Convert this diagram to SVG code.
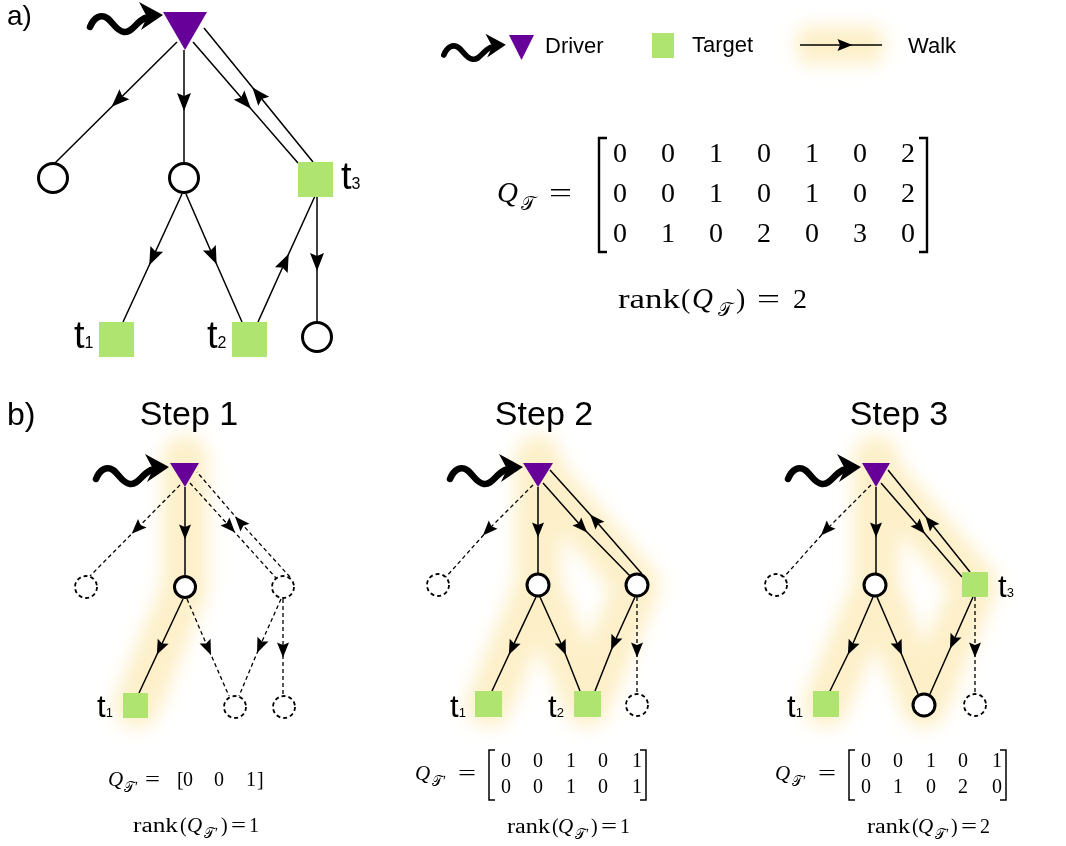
<svg xmlns="http://www.w3.org/2000/svg" width="1066" height="846" viewBox="0 0 1066 846">
<style>
.lbl{font-family:"Liberation Sans",Arial,sans-serif;fill:#000}
.m{font-family:"Liberation Serif","Times New Roman","DejaVu Serif",serif;fill:#000}
.i{font-style:italic}
.e{fill:none;stroke:#000;stroke-width:1.5}
.ea{marker-mid:url(#ah)}
.eb{marker-mid:url(#ahs)}
.d{stroke-dasharray:4 3;stroke-width:1.3}
.c{fill:#fff;stroke:#000;stroke-width:3}
.dc{fill:#fff;stroke:#000;stroke-width:1.8;stroke-dasharray:4 3}
.tg{fill:#aee46f}
.dr{fill:#660099}
.glow{fill:none;stroke:#fdedc0;stroke-width:46;stroke-linecap:round;stroke-linejoin:round;opacity:0.85}
.br{fill:none;stroke:#000;stroke-width:2.4}
.brs{fill:none;stroke:#000;stroke-width:1.5}
</style>
<defs>
<marker id="ah" viewBox="-10 -8 20 16" markerWidth="20" markerHeight="16" refX="0" refY="0" orient="auto" markerUnits="userSpaceOnUse"><path d="M9,0 L-9,-7 L-6,0 L-9,7 Z" fill="#000"/></marker>
<marker id="ahs" viewBox="-8 -7 16 14" markerWidth="16" markerHeight="14" refX="0" refY="0" orient="auto" markerUnits="userSpaceOnUse"><path d="M7.5,0 L-7.5,-6 L-5,0 L-7.5,6 Z" fill="#000"/></marker>
<filter id="blur" x="-50%" y="-50%" width="200%" height="200%"><feGaussianBlur stdDeviation="9"/></filter>
<g id="wave">
<path d="M-72,13 C-68,3 -61,0 -55,4 C-49,8 -46,17 -38,18 C-30,19 -27,9 -17,4" fill="none" stroke="#000" stroke-width="6.5" stroke-linecap="round"/>
<path d="M-23,-12 L1,1 L-21,16 L-15,3 Z" fill="#000"/>
</g>
</defs>
<rect width="1066" height="846" fill="#fff"/>

<!-- glows -->
<g id="glows" filter="url(#blur)">
<rect x="796" y="26" width="88" height="38" rx="12" fill="#fdedc0" opacity="0.85"/>
<path class="glow" d="M185,458 L185,587 L137,705"/>
<path class="glow" d="M538,458 L538,585 L489,704 M538,585 L587,704 M538,470 L637,585 L587,704"/>
<path class="glow" d="M876,458 L876,585 L826,704 M876,585 L924,705 L975,585 M876,470 L975,585"/>
</g>

<!-- panel labels -->
<text class="lbl" x="7" y="25" font-size="28">a)</text>
<text class="lbl" x="7" y="425" font-size="32">b)</text>
<text class="lbl" x="189" y="425" font-size="34" text-anchor="middle">Step 1</text>
<text class="lbl" x="544" y="425" font-size="34" text-anchor="middle">Step 2</text>
<text class="lbl" x="899" y="425" font-size="34" text-anchor="middle">Step 3</text>

<!-- legend -->
<g id="legend-driver">
<use href="#wave" transform="translate(505,44) scale(0.85)"/>
<polygon class="dr" points="509,35 534,35 521.5,60"/>
<text class="lbl" x="545" y="53" font-size="22">Driver</text>
</g>
<g id="legend-target">
<rect class="tg" x="652" y="33" width="22" height="25"/>
<text class="lbl" x="692" y="52" font-size="22">Target</text>
</g>
<g id="legend-walk">
<path class="e eb" d="M800,45 L845,45 L882,45"/>
<text class="lbl" x="908" y="53" font-size="22">Walk</text>
</g>

<!-- ===== panel a ===== -->
<g id="a-connectors">
<path class="e ea" d="M177,42 L118,100.5 L55,163"/>
<path class="e ea" d="M184,50 L184,102 L184,163"/>
<path class="e ea" d="M193,42 L245,102 L298,163"/>
<path class="e ea" d="M313,162 L258,94.3 L204,28"/>
<path class="e ea" d="M182,194 L153,257 L123,322"/>
<path class="e ea" d="M186,194 L213,256 L242,322"/>
<path class="e ea" d="M258,322 L285,262 L315,196"/>
<path class="e ea" d="M317,196 L317,262 L317,322"/>
</g>
<g id="a-driver">
<use href="#wave" transform="translate(162,14)"/>
<polygon class="dr" points="163,12 207,12 185,50"/>
</g>
<g id="a-n1"><circle class="c" cx="53" cy="178" r="14.5"/></g>
<g id="a-n2"><circle class="c" cx="184" cy="178" r="14.5"/></g>
<g id="a-t3"><rect class="tg" x="298" y="162" width="35" height="35"/>
<text class="lbl" x="341" y="189" font-size="38">t<tspan font-size="16">3</tspan></text></g>
<g id="a-t1"><rect class="tg" x="99" y="322" width="35" height="35"/>
<text class="lbl" x="74" y="348" font-size="38">t<tspan font-size="16">1</tspan></text></g>
<g id="a-t2"><rect class="tg" x="232" y="322" width="35" height="35"/>
<text class="lbl" x="207" y="348" font-size="38">t<tspan font-size="16">2</tspan></text></g>
<g id="a-n3"><circle class="c" cx="317" cy="337" r="14.5"/></g>

<!-- matrix a -->
<g id="a-matrix">
<text class="m i" x="497" y="202" font-size="29">Q</text>
<text class="m" x="521" y="210" font-size="19">𝒯</text>
<text class="m" x="549" y="202" font-size="28" textLength="23" lengthAdjust="spacingAndGlyphs">=</text>
<path class="br" d="M607,138 L599,138 L599,252 L607,252"/>
<path class="br" d="M919,138 L927,138 L927,252 L919,252"/>
<g font-size="28" text-anchor="middle" class="m">
<text y="162"><tspan x="620">0</tspan><tspan x="668">0</tspan><tspan x="716">1</tspan><tspan x="764">0</tspan><tspan x="812">1</tspan><tspan x="860">0</tspan><tspan x="908">2</tspan></text>
<text y="202"><tspan x="620">0</tspan><tspan x="668">0</tspan><tspan x="716">1</tspan><tspan x="764">0</tspan><tspan x="812">1</tspan><tspan x="860">0</tspan><tspan x="908">2</tspan></text>
<text y="242"><tspan x="620">0</tspan><tspan x="668">1</tspan><tspan x="716">0</tspan><tspan x="764">2</tspan><tspan x="812">0</tspan><tspan x="860">3</tspan><tspan x="908">0</tspan></text>
</g>
<text class="m" x="618" y="308" font-size="28" textLength="62" lengthAdjust="spacingAndGlyphs">rank</text>
<text class="m" x="681" y="308" font-size="28">(</text>
<text class="m i" x="692" y="308" font-size="29">Q</text>
<text class="m" x="718" y="316" font-size="19">𝒯</text>
<text class="m" x="736" y="308" font-size="28">)</text>
<text class="m" x="757" y="308" font-size="28" textLength="23" lengthAdjust="spacingAndGlyphs">=</text>
<text class="m" x="793" y="308" font-size="28">2</text>
</g>

<!-- ===== Step 1 ===== -->
<g id="s1-connectors">
<path class="e eb d" d="M180,485 L137,528.5 L90,576"/>
<path class="e eb" d="M185,487 L185,532 L185,575"/>
<path class="e eb d" d="M190,483 L230,527 L276,578"/>
<path class="e eb d" d="M290,577 L240,522 L197,472"/>
<path class="e eb" d="M183,599 L160,648 L139,693"/>
<path class="e eb d" d="M187,599 L208,648 L229,696"/>
<path class="e eb d" d="M281,599 L260,646 L239,696"/>
<path class="e eb d" d="M283,599 L283,650 L283,696"/>
</g>
<g id="s1-driver"><use href="#wave" transform="translate(168,466)"/><polygon class="dr" points="170,463 199,463 185,487"/></g>
<g id="s1-n1"><circle class="dc" cx="86" cy="587" r="11"/></g>
<g id="s1-n2"><circle class="c" cx="185" cy="587" r="10.5"/></g>
<g id="s1-n3"><circle class="dc" cx="283" cy="587" r="11"/></g>
<g id="s1-t1"><rect class="tg" x="123" y="693" width="25" height="25"/>
<text class="lbl" x="97" y="717" font-size="31">t<tspan font-size="13">1</tspan></text></g>
<g id="s1-n4"><circle class="dc" cx="235" cy="707" r="11"/></g>
<g id="s1-n5"><circle class="dc" cx="284" cy="707" r="11"/></g>
<g id="s1-formula">
<text class="m i" x="108" y="786" font-size="21">Q</text>
<text class="m" x="124" y="792" font-size="14">𝒯′</text>
<text class="m" x="145" y="786" font-size="20" textLength="15" lengthAdjust="spacingAndGlyphs">=</text>
<text class="m" x="177" y="786" font-size="20">[</text>
<text class="m" y="786" font-size="20" text-anchor="middle"><tspan x="188">0</tspan><tspan x="219">0</tspan><tspan x="251">1</tspan></text>
<text class="m" x="257" y="786" font-size="20">]</text>
<text class="m" x="133" y="832" font-size="20" textLength="45" lengthAdjust="spacingAndGlyphs">rank</text>
<text class="m" x="180" y="832" font-size="20">(</text>
<text class="m i" x="187" y="832" font-size="21">Q</text>
<text class="m" x="204" y="838" font-size="14">𝒯′</text>
<text class="m" x="221" y="832" font-size="20">)</text>
<text class="m" x="231" y="832" font-size="20" textLength="15" lengthAdjust="spacingAndGlyphs">=</text>
<text class="m" x="249" y="832" font-size="20">1</text>
</g>

<!-- ===== Step 2 ===== -->
<g id="s2-connectors">
<path class="e eb d" d="M533,485 L488,530 L446,577"/>
<path class="e eb" d="M538,487 L538,530 L538,574"/>
<path class="e eb" d="M543,483 L582,527 L630,576"/>
<path class="e eb" d="M642,574 L595,520 L550,470"/>
<path class="e eb" d="M536,597 L512,648 L492,691"/>
<path class="e eb" d="M540,597 L563,648 L580,691"/>
<path class="e eb" d="M635,597 L614,643 L595,691"/>
<path class="e eb d" d="M637,597 L637,650 L637,694"/>
</g>
<g id="s2-driver"><use href="#wave" transform="translate(522,466)"/><polygon class="dr" points="523,463 553,463 538,487"/></g>
<g id="s2-n1"><circle class="dc" cx="438" cy="585" r="11"/></g>
<g id="s2-n2"><circle class="c" cx="538" cy="585" r="11"/></g>
<g id="s2-n3"><circle class="c" cx="637" cy="585" r="11"/></g>
<g id="s2-t1"><rect class="tg" x="475" y="691" width="27" height="26"/>
<text class="lbl" x="450" y="717" font-size="31">t<tspan font-size="13">1</tspan></text></g>
<g id="s2-t2"><rect class="tg" x="574" y="691" width="27" height="26"/>
<text class="lbl" x="548" y="717" font-size="31">t<tspan font-size="13">2</tspan></text></g>
<g id="s2-n4"><circle class="dc" cx="637" cy="705" r="11"/></g>
<g id="s2-formula">
<text class="m i" x="415" y="780" font-size="21">Q</text>
<text class="m" x="432" y="786" font-size="14">𝒯′</text>
<text class="m" x="458" y="780" font-size="20" textLength="18" lengthAdjust="spacingAndGlyphs">=</text>
<path class="brs" d="M495,750 L489,750 L489,800 L495,800"/>
<path class="brs" d="M640,750 L646,750 L646,800 L640,800"/>
<g class="m" font-size="20" text-anchor="middle">
<text y="767"><tspan x="506">0</tspan><tspan x="538">0</tspan><tspan x="571">1</tspan><tspan x="603">0</tspan><tspan x="637">1</tspan></text>
<text y="793"><tspan x="506">0</tspan><tspan x="538">0</tspan><tspan x="571">1</tspan><tspan x="603">0</tspan><tspan x="637">1</tspan></text>
</g>
<text class="m" x="507" y="833" font-size="20" textLength="43" lengthAdjust="spacingAndGlyphs">rank</text>
<text class="m" x="552" y="833" font-size="20">(</text>
<text class="m i" x="558" y="833" font-size="21">Q</text>
<text class="m" x="575" y="839" font-size="14">𝒯′</text>
<text class="m" x="591" y="833" font-size="20">)</text>
<text class="m" x="601" y="833" font-size="20" textLength="16" lengthAdjust="spacingAndGlyphs">=</text>
<text class="m" x="620" y="833" font-size="20">1</text>
</g>

<!-- ===== Step 3 ===== -->
<g id="s3-connectors">
<path class="e eb d" d="M871,485 L826,530 L784,577"/>
<path class="e eb" d="M876,487 L876,530 L876,574"/>
<path class="e eb" d="M881,483 L920,528 L962,577"/>
<path class="e eb" d="M970,572 L930,522 L888,470"/>
<path class="e eb" d="M873,597 L851,648 L830,691"/>
<path class="e eb" d="M877,597 L899,648 L918,694"/>
<path class="e eb" d="M973,597 L953,642 L930,694"/>
<path class="e eb d" d="M975,597 L975,650 L975,694"/>
</g>
<g id="s3-driver"><use href="#wave" transform="translate(860,466)"/><polygon class="dr" points="862,463 890,463 876,487"/></g>
<g id="s3-n1"><circle class="dc" cx="776" cy="585" r="11"/></g>
<g id="s3-n2"><circle class="c" cx="875" cy="585" r="11"/></g>
<g id="s3-t3"><rect class="tg" x="962" y="572" width="26" height="25"/>
<text class="lbl" x="998" y="597" font-size="31">t<tspan font-size="13">3</tspan></text></g>
<g id="s3-t1"><rect class="tg" x="813" y="691" width="26" height="26"/>
<text class="lbl" x="787" y="717" font-size="31">t<tspan font-size="13">1</tspan></text></g>
<g id="s3-n3"><circle class="c" cx="924" cy="705" r="11"/></g>
<g id="s3-n4"><circle class="dc" cx="975" cy="705" r="11"/></g>
<g id="s3-formula">
<text class="m i" x="775" y="780" font-size="21">Q</text>
<text class="m" x="792" y="786" font-size="14">𝒯′</text>
<text class="m" x="818" y="780" font-size="20" textLength="18" lengthAdjust="spacingAndGlyphs">=</text>
<path class="brs" d="M855,750 L849,750 L849,800 L855,800"/>
<path class="brs" d="M1000,750 L1006,750 L1006,800 L1000,800"/>
<g class="m" font-size="20" text-anchor="middle">
<text y="767"><tspan x="866">0</tspan><tspan x="898">0</tspan><tspan x="931">1</tspan><tspan x="963">0</tspan><tspan x="997">1</tspan></text>
<text y="793"><tspan x="866">0</tspan><tspan x="898">1</tspan><tspan x="931">0</tspan><tspan x="963">2</tspan><tspan x="997">0</tspan></text>
</g>
<text class="m" x="867" y="833" font-size="20" textLength="43" lengthAdjust="spacingAndGlyphs">rank</text>
<text class="m" x="912" y="833" font-size="20">(</text>
<text class="m i" x="918" y="833" font-size="21">Q</text>
<text class="m" x="935" y="839" font-size="14">𝒯′</text>
<text class="m" x="951" y="833" font-size="20">)</text>
<text class="m" x="961" y="833" font-size="20" textLength="16" lengthAdjust="spacingAndGlyphs">=</text>
<text class="m" x="980" y="833" font-size="20">2</text>
</g>
</svg>
